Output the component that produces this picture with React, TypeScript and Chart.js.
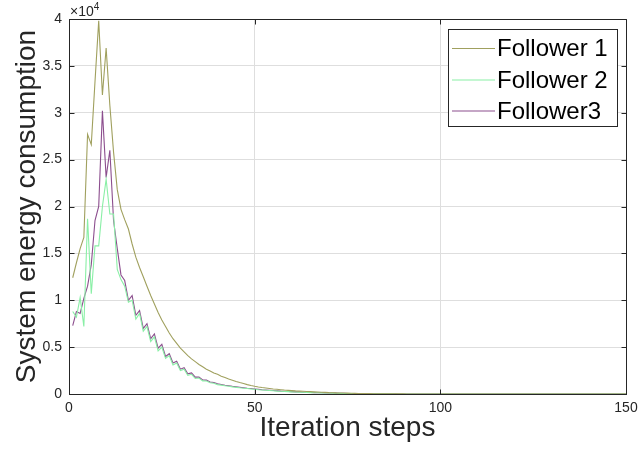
import React, { useEffect, useRef } from "react";
import { Chart, registerables } from "chart.js";

Chart.register(...registerables);

// Iteration steps (x)
const iterations: number[] = Array.from({ length: 150 }, (_, i) => i + 1);

// System energy consumption, in units of 10^4
const follower1: number[] = [
  1.24, 1.40, 1.55, 1.67, 2.77, 2.66, 3.33, 3.98, 3.19, 3.69,
  3.08, 2.58, 2.18, 1.97, 1.86, 1.76, 1.60, 1.46, 1.35, 1.25,
  1.15, 1.05, 0.96, 0.87, 0.79, 0.72, 0.65, 0.59, 0.54, 0.49,
  0.45, 0.41, 0.375, 0.345, 0.315, 0.29, 0.265, 0.245, 0.225, 0.21,
  0.19, 0.175, 0.16, 0.147, 0.134, 0.122, 0.111, 0.1, 0.09, 0.082,
  0.075, 0.069, 0.064, 0.059, 0.054, 0.05, 0.046, 0.042, 0.039, 0.036,
  0.033, 0.031, 0.029, 0.027, 0.025, 0.023, 0.021, 0.019, 0.017, 0.015,
  0.014, 0.012, 0.011, 0.01, 0.009, 0.008, 0.007, 0.006, 0.005, 0.005,
  0.004, 0.003, 0.003, 0.002, 0.002, 0.002, 0.001, 0.001, 0.001, 0.001,
  0, 0, 0, 0, 0, 0, 0, 0, 0, 0,
  0, 0, 0, 0, 0, 0, 0, 0, 0, 0,
  0, 0, 0, 0, 0, 0, 0, 0, 0, 0,
  0, 0, 0, 0, 0, 0, 0, 0, 0, 0,
  0, 0, 0, 0, 0, 0, 0, 0, 0, 0,
  0, 0, 0, 0, 0, 0, 0, 0, 0, 0,
];

const follower2: number[] = [
  0.88, 0.82, 1.03, 0.72, 1.87, 1.07, 1.58, 1.58, 2.00, 2.29,
  1.92, 1.92, 1.33, 1.22, 1.15, 0.98, 1.00, 0.80, 0.86, 0.67,
  0.72, 0.56, 0.61, 0.46, 0.50, 0.38, 0.41, 0.31, 0.33, 0.25,
  0.265, 0.20, 0.21, 0.165, 0.17, 0.14, 0.138, 0.12, 0.114, 0.10,
  0.095, 0.088, 0.082, 0.076, 0.071, 0.066, 0.062, 0.058, 0.054, 0.05,
  0.046, 0.043, 0.04, 0.037, 0.034, 0.031, 0.029, 0.027, 0.025, 0.023,
  0.021, 0.019, 0.018, 0.016, 0.015, 0.014, 0.013, 0.012, 0.011, 0.01,
  0.009, 0.008, 0.007, 0.006, 0.006, 0.005, 0.005, 0.004, 0.004, 0.003,
  0.003, 0.002, 0.002, 0.002, 0.001, 0.001, 0.001, 0, 0, 0,
  0, 0, 0, 0, 0, 0, 0, 0, 0, 0,
  0, 0, 0, 0, 0, 0, 0, 0, 0, 0,
  0, 0, 0, 0, 0, 0, 0, 0, 0, 0,
  0, 0, 0, 0, 0, 0, 0, 0, 0, 0,
  0, 0, 0, 0, 0, 0, 0, 0, 0, 0,
  0, 0, 0, 0, 0, 0, 0, 0, 0, 0,
];

const follower3: number[] = [
  0.73, 0.88, 0.86, 1.02, 1.15, 1.38, 1.85, 2.00, 3.02, 2.31,
  2.60, 1.85, 1.55, 1.27, 1.21, 1.00, 1.05, 0.84, 0.89, 0.70,
  0.75, 0.59, 0.64, 0.49, 0.53, 0.40, 0.43, 0.33, 0.35, 0.265,
  0.28, 0.215, 0.225, 0.18, 0.18, 0.15, 0.148, 0.128, 0.122, 0.108,
  0.102, 0.094, 0.088, 0.082, 0.077, 0.072, 0.067, 0.062, 0.058, 0.054,
  0.05, 0.046, 0.043, 0.04, 0.037, 0.034, 0.031, 0.029, 0.027, 0.025,
  0.023, 0.021, 0.019, 0.018, 0.016, 0.015, 0.014, 0.013, 0.012, 0.011,
  0.01, 0.009, 0.008, 0.007, 0.006, 0.006, 0.005, 0.005, 0.004, 0.004,
  0.003, 0.003, 0.002, 0.002, 0.002, 0.001, 0.001, 0.001, 0, 0,
  0, 0, 0, 0, 0, 0, 0, 0, 0, 0,
  0, 0, 0, 0, 0, 0, 0, 0, 0, 0,
  0, 0, 0, 0, 0, 0, 0, 0, 0, 0,
  0, 0, 0, 0, 0, 0, 0, 0, 0, 0,
  0, 0, 0, 0, 0, 0, 0, 0, 0, 0,
  0, 0, 0, 0, 0, 0, 0, 0, 0, 0,
];

const seriesLabels: string[] = ["Follower 1", "Follower 2", "Follower3"];
const seriesColors: string[] = ["#a0a05e", "#8aefa6", "#8c4e8e"];
const seriesValues: number[][] = [follower1, follower2, follower3];

const FONT = "'Liberation Sans', Arial, Helvetica, sans-serif";
const AXIS_COLOR = "#262626";

const framePlugin = {
  id: "matlabFrame",
  afterDraw(chart: any) {
    const { ctx, chartArea } = chart;
    const { left, right, top, bottom } = chartArea;
    const xs = chart.scales.x;
    const ys = chart.scales.y;
    ctx.save();
    ctx.strokeStyle = AXIS_COLOR;
    ctx.lineWidth = 1;
    const l = Math.round(left) + 0.5;
    const r = Math.round(right) + 0.5;
    const t = Math.round(top) + 0.5;
    const b = Math.round(bottom) + 0.5;
    ctx.beginPath();
    ctx.moveTo(l, t);
    ctx.lineTo(r, t);
    ctx.lineTo(r, b);
    ctx.lineTo(l, b);
    ctx.closePath();
    ctx.stroke();
    const tl = 5;
    ctx.beginPath();
    xs.ticks.forEach((tk: any) => {
      const px = Math.round(xs.getPixelForValue(tk.value)) + 0.5;
      ctx.moveTo(px, b);
      ctx.lineTo(px, b - tl);
      ctx.moveTo(px, t);
      ctx.lineTo(px, t + tl);
    });
    ys.ticks.forEach((tk: any) => {
      const py = Math.round(ys.getPixelForValue(tk.value)) + 0.5;
      ctx.moveTo(l, py);
      ctx.lineTo(l + tl, py);
      ctx.moveTo(r, py);
      ctx.lineTo(r - tl, py);
    });
    ctx.stroke();

    // exponent label
    ctx.fillStyle = AXIS_COLOR;
    ctx.textBaseline = "alphabetic";
    ctx.textAlign = "left";
    ctx.font = `14px ${FONT}`;
    ctx.fillText("\u00d710", left + 1, 16);
    const w = ctx.measureText("\u00d710").width;
    ctx.font = `10px ${FONT}`;
    ctx.fillText("4", left + 1 + w, 10);

    // legend
    const bx = 448.5, by = 29.5, bw = 169, bh = 97;
    ctx.fillStyle = "#ffffff";
    ctx.fillRect(bx, by, bw, bh);
    ctx.strokeStyle = AXIS_COLOR;
    ctx.lineWidth = 1;
    ctx.strokeRect(bx, by, bw, bh);
    const rows = [48.5, 80, 111];
    chart.data.datasets.forEach((ds: any, i: number) => {
      const y = rows[i];
      ctx.strokeStyle = ds.borderColor;
      ctx.lineWidth = 1.2;
      ctx.beginPath();
      ctx.moveTo(452, y);
      ctx.lineTo(495, y);
      ctx.stroke();
      ctx.fillStyle = "#000000";
      ctx.font = `24px ${FONT}`;
      ctx.textBaseline = "middle";
      ctx.fillText(ds.label, 497, y + 1);
    });
    ctx.restore();
  },
};

export default function App() {
  const ref = useRef<HTMLCanvasElement | null>(null);
  useEffect(() => {
    if (!ref.current) return;
    const chart = new Chart(ref.current, {
      type: "line",
      data: {
        datasets: seriesValues.map((vals, k) => ({
          label: seriesLabels[k],
          data: iterations.map((x, i) => ({ x, y: vals[i] })),
          borderColor: seriesColors[k],
          backgroundColor: seriesColors[k],
          borderWidth: 1.1,
          pointRadius: 0,
          tension: 0,
          fill: false,
        })),
      },
      options: {
        animation: false,
        responsive: false,
        devicePixelRatio: 1,
        layout: { padding: { top: 19, right: 12, left: 0, bottom: 0 } },
        plugins: { legend: { display: false }, tooltip: { enabled: false } },
        scales: {
          x: {
            type: "linear",
            min: 0,
            max: 150,
            ticks: {
              stepSize: 50,
              color: AXIS_COLOR,
              font: { family: FONT, size: 14 },
              padding: 6,
              maxRotation: 0,
            },
            grid: { color: "#dedede", drawTicks: false },
            border: { display: true, color: AXIS_COLOR },
            title: {
              display: true,
              text: "Iteration steps",
              color: AXIS_COLOR,
              font: { family: FONT, size: 28 },
              padding: { top: 0, bottom: 10 },
            },
            afterFit: (s: any) => {
              s.height = 61;
              s.paddingRight = 0;
              s.paddingLeft = 0;
            },
          },
          y: {
            min: 0,
            max: 4,
            ticks: {
              stepSize: 0.5,
              color: AXIS_COLOR,
              font: { family: FONT, size: 14 },
              padding: 7,
              callback: (v: any) => String(v),
            },
            grid: { color: "#dedede", drawTicks: false },
            border: { display: true, color: AXIS_COLOR },
            title: {
              display: true,
              text: "System energy consumption",
              color: AXIS_COLOR,
              font: { family: FONT, size: 28 },
              padding: { top: 10, bottom: 0 },
            },
            afterFit: (s: any) => {
              s.width = 69;
              s.paddingTop = 0;
              s.paddingBottom = 0;
            },
          },
        },
      },
      plugins: [framePlugin],
    });
    return () => chart.destroy();
  }, []);
  return (
    <div style={{ position: "absolute", left: 0, top: 0, width: 638, height: 455, background: "#fff" }}>
      <canvas ref={ref} width={638} height={455} style={{ display: "block" }} />
    </div>
  );
}
